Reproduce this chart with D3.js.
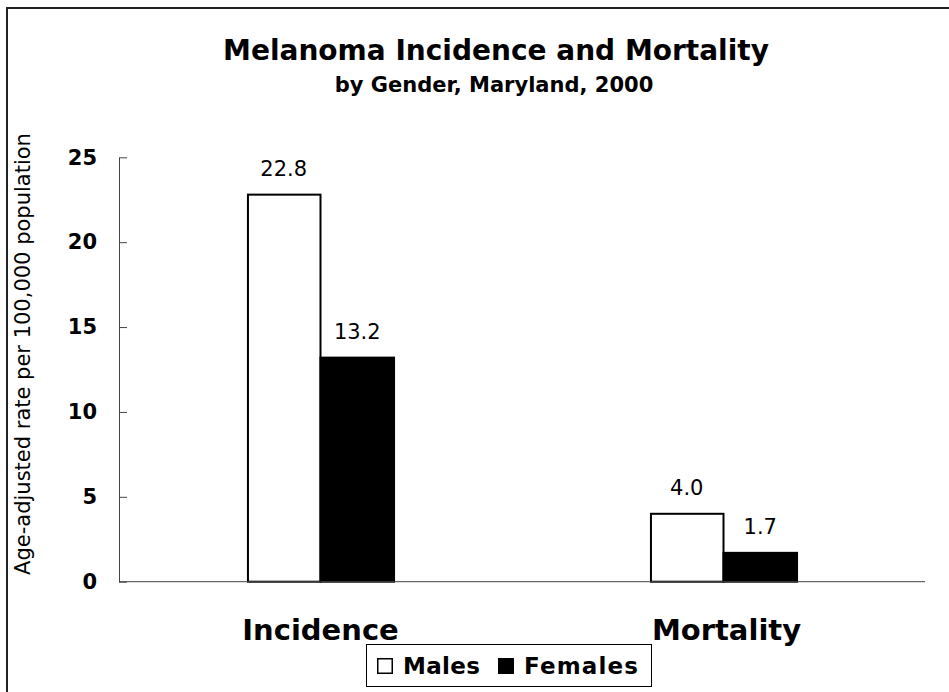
<!DOCTYPE html>
<html>
<head>
<meta charset="utf-8">
<script src="https://cdn.jsdelivr.net/npm/d3@7"></script>
<style>
  body { margin: 0; background: #fff; }
  svg { display: block; font-family: "DejaVu Sans", Verdana, sans-serif; }
</style>
</head>
<body>
<div id="chart"></div>
<script>
// data
var categories = ["Incidence", "Mortality"];
var seriesNames = ["Males", "Females"];
var males = [22.8, 4.0];
var females = [13.2, 1.7];
var yTicks = [0, 5, 10, 15, 20, 25];
var seriesFill = ["#ffffff", "#000000"];

var width = 949, height = 692;
var margin = { top: 157.3, right: 24, bottom: 110.3, left: 119 };

var svg = d3.select("#chart").append("svg")
  .attr("width", width)
  .attr("height", height);

// outer frame (right and bottom edges fall outside the picture)
svg.append("rect")
  .attr("x", 7).attr("y", 8)
  .attr("width", width + 20).attr("height", height + 20)
  .attr("fill", "none")
  .attr("stroke", "#222")
  .attr("stroke-width", 2);

var x = d3.scaleBand()
  .domain(categories)
  .range([margin.left, width - margin.right])
  .paddingInner(0.635)
  .paddingOuter(0.3175);

var x1 = d3.scaleBand()
  .domain(seriesNames)
  .range([0, x.bandwidth()]);

var y = d3.scaleLinear()
  .domain([0, 25])
  .range([height - margin.bottom, margin.top]);

// titles
svg.append("text")
  .attr("x", 496).attr("y", 60)
  .attr("text-anchor", "middle")
  .attr("font-size", 28).attr("font-weight", "bold")
  .text("Melanoma Incidence and Mortality");
svg.append("text")
  .attr("x", 494).attr("y", 92)
  .attr("text-anchor", "middle")
  .attr("font-size", 21).attr("font-weight", "bold")
  .text("by Gender, Maryland, 2000");

// y axis title
svg.append("text")
  .attr("transform", "translate(30,354) rotate(-90)")
  .attr("text-anchor", "middle")
  .attr("font-size", 21)
  .text("Age-adjusted rate per 100,000 population");

// bars
var rows = categories.map(function(c, i) {
  return { cat: c, values: [males[i], females[i]] };
});

var groups = svg.append("g").attr("class", "bars")
  .selectAll("g")
  .data(rows)
  .enter().append("g")
  .attr("transform", function(d) { return "translate(" + x(d.cat) + ",0)"; });

var cells = groups.selectAll("g.cell")
  .data(function(d) {
    return d.values.map(function(v, j) { return { name: seriesNames[j], value: v, j: j }; });
  })
  .enter().append("g").attr("class", "cell");

cells.append("rect")
  .attr("x", function(d) { return x1(d.name) + (d.j === 0 ? 1 : 0); })
  .attr("y", function(d) { return y(d.value); })
  .attr("width", function(d) { return x1.bandwidth() - (d.j === 0 ? 1 : 0); })
  .attr("height", function(d) { return y(0) - y(d.value); })
  .attr("fill", function(d) { return seriesFill[d.j]; })
  .attr("stroke", "#000")
  .attr("stroke-width", 2);

cells.append("text")
  .attr("x", function(d) { return x1(d.name) + x1.bandwidth() / 2; })
  .attr("y", function(d) { return y(d.value) - 19; })
  .attr("text-anchor", "middle")
  .attr("font-size", 21)
  .text(function(d) { return d.value.toFixed(1); });

// y axis with inward ticks
var yAxis = d3.axisLeft(y)
  .tickValues(yTicks)
  .tickSizeInner(-8)
  .tickSizeOuter(0)
  .tickPadding(22);

var yg = svg.append("g")
  .attr("transform", "translate(" + margin.left + ",0)")
  .call(yAxis);
yg.select(".domain").attr("stroke", "#444");
yg.selectAll(".tick line").attr("stroke", "#444");
yg.selectAll(".tick text")
  .attr("font-family", "DejaVu Sans, sans-serif")
  .attr("font-size", 21)
  .attr("font-weight", "bold")
  .attr("fill", "#000");

// x axis baseline and category labels
var xAxis = d3.axisBottom(x).tickSize(0).tickPadding(0);
var xg = svg.append("g")
  .attr("transform", "translate(0," + y(0) + ")")
  .call(xAxis);
xg.select(".domain").attr("stroke", "#444").attr("d",
  "M" + margin.left + ",0H" + (width - margin.right));
xg.selectAll(".tick text")
  .attr("font-family", "DejaVu Sans, sans-serif")
  .attr("font-size", 29)
  .attr("font-weight", "bold")
  .attr("fill", "#000")
  .attr("dy", null)
  .attr("y", 58)
  .attr("dx", function(d, i) { return i === 1 ? 3 : 0; });

// legend
var legend = svg.append("g").attr("class", "legend");
legend.append("rect")
  .attr("x", 366.5).attr("y", 644.5)
  .attr("width", 285).attr("height", 42)
  .attr("fill", "#fff").attr("stroke", "#000").attr("stroke-width", 1);

var legendX = [377, 498];
var items = legend.selectAll("g.item")
  .data(seriesNames)
  .enter().append("g").attr("class", "item")
  .attr("transform", function(d, i) { return "translate(" + legendX[i] + ",658)"; });
items.append("rect")
  .attr("x", 0.75).attr("y", 0.75)
  .attr("width", 14.5).attr("height", 14.5)
  .attr("fill", function(d, i) { return seriesFill[i]; })
  .attr("stroke", "#000").attr("stroke-width", 1.5);
items.append("text")
  .attr("x", 26).attr("y", 16)
  .attr("font-size", 23).attr("font-weight", "bold")
  .attr("textLength", function(d, i) { return i === 0 ? 77 : 114; })
  .text(function(d) { return d; });
</script>
</body>
</html>
